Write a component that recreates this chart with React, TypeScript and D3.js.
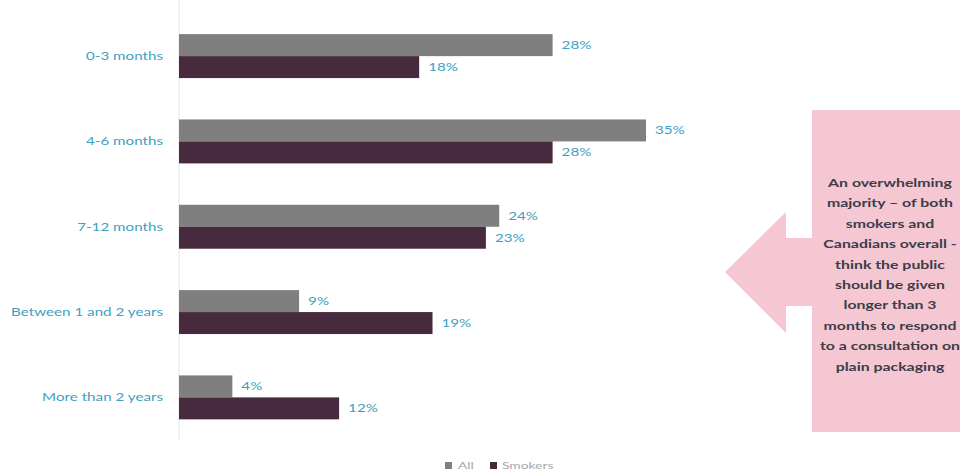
import React from "react";
import * as d3 from "d3";

const categories = ["0-3 months", "4-6 months", "7-12 months", "Between 1 and 2 years", "More than 2 years"];
const seriesNames = ["All", "Smokers"];
const allValues = [28, 35, 24, 9, 4];
const smokersValues = [18, 28, 23, 19, 12];
const calloutLines = [
  "An overwhelming",
  "majority \u2013 of both",
  "smokers and",
  "Canadians overall -",
  "think the public",
  "should be given",
  "longer than 3",
  "months to respond",
  "to a consultation on",
  "plain packaging",
];

const W = 960;
const H = 476;
const colors = ["#7f7f7f", "#472a3d"];
const labelColor = "#3e9fc2";
const font = "Lato, 'Open Sans', sans-serif";
const SX = 1.38;

function SText(props: { x: number; y: number; anchor?: string; size: number; fill: string; weight?: number; children: React.ReactNode }) {
  return (
    <text
      transform={`translate(${props.x},${props.y}) scale(${SX},1)`}
      dy="0.35em"
      textAnchor={props.anchor || "start"}
      fontSize={props.size}
      fill={props.fill}
      fontWeight={props.weight || 400}
    >
      {props.children}
    </text>
  );
}

export default function App() {
  const x0 = 179;
  const x = d3.scaleLinear().domain([0, 35]).range([x0, 646]);
  const y = d3.scaleBand<string>().domain(categories).range([13.5, 440]).paddingInner(0.485).paddingOuter(0.242);
  const sub = d3.scaleBand<string>().domain(seriesNames).range([0, y.bandwidth()]);
  const series = [allValues, smokersValues];

  const arrowPath = d3.path();
  arrowPath.moveTo(725, 272);
  arrowPath.lineTo(786, 212);
  arrowPath.lineTo(786, 238);
  arrowPath.lineTo(812, 238);
  arrowPath.lineTo(812, 306);
  arrowPath.lineTo(786, 306);
  arrowPath.lineTo(786, 333);
  arrowPath.closePath();

  return (
    <svg width={W} height={H} style={{ position: "absolute", left: 0, top: 0, background: "#fff" }} fontFamily={font}>
      <line x1={x0} x2={x0} y1={0} y2={440} stroke="#e6e6e6" strokeWidth={1} />
      {categories.map((c, i) => (
        <g key={c}>
          <SText x={163} y={(y(c) ?? 0) + y.bandwidth() / 2} anchor="end" size={11} fill={labelColor}>
            {c}
          </SText>
          {series.map((vals, s) => {
            const yy = (y(c) ?? 0) + (sub(seriesNames[s]) ?? 0);
            return (
              <g key={s}>
                <rect x={x0} y={yy} width={x(vals[i]) - x0} height={sub.bandwidth()} fill={colors[s]} />
                <SText x={x(vals[i]) + 9} y={yy + sub.bandwidth() / 2} size={11} fill={labelColor}>
                  {vals[i]}%
                </SText>
              </g>
            );
          })}
        </g>
      ))}
      <path d={arrowPath.toString()} fill="#f4c7d2" />
      <rect x={812} y={110} width={160} height={322} fill="#f4c7d2" />
      {calloutLines.map((l, i) => (
        <SText key={i} x={890} y={183 + i * 20.4} anchor="middle" size={11.5} fill="#3c3c4a" weight={700}>
          {l}
        </SText>
      ))}
      <rect x={445} y={462} width={7} height={7} fill={colors[0]} />
      <SText x={458} y={465.5} size={10} fill="#a6a6a6">{seriesNames[0]}</SText>
      <rect x={490} y={462} width={7} height={7} fill={colors[1]} />
      <SText x={502} y={465.5} size={10} fill="#a6a6a6">{seriesNames[1]}</SText>
    </svg>
  );
}
